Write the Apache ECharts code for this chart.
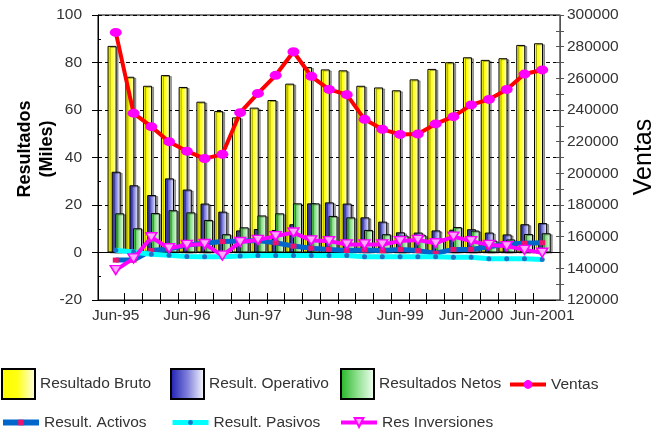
<!DOCTYPE html>
<html><head><meta charset="utf-8">
<script src="https://cdn.jsdelivr.net/npm/echarts@6/dist/echarts.min.js"></script>
<style>html,body{margin:0;padding:0;background:#fff}#c{width:665px;height:435px}</style>
</head><body><div id="c"></div>
<script>
// ---- data ----
const periods = ['Jun-95','Sep-95','Dic-95','Mar-96','Jun-96','Sep-96','Dic-96','Mar-97','Jun-97','Sep-97','Dic-97','Mar-98','Jun-98','Sep-98','Dic-98','Mar-99','Jun-99','Sep-99','Dic-99','Mar-2000','Jun-2000','Sep-2000','Dic-2000','Mar-2001','Jun-2001'];
const resultadoBruto = [87.0, 74.0, 70.2, 74.7, 69.7, 63.5, 59.6, 56.9, 61.0, 64.2, 71.1, 78.1, 77.1, 76.7, 70.2, 69.5, 68.3, 72.9, 77.3, 80.1, 82.2, 81.1, 81.8, 87.4, 88.1];
const resultOperativo = [34.0, 28.3, 24.2, 31.2, 26.5, 20.6, 17.2, 9.3, 9.9, 9.5, 11.9, 20.7, 21.1, 20.6, 14.8, 13.0, 8.5, 8.4, 9.3, 9.6, 9.8, 8.4, 7.6, 11.9, 12.4];
const resultadosNetos = [16.5, 10.2, 16.6, 17.8, 16.9, 13.7, 7.7, 10.6, 15.6, 16.5, 20.7, 20.7, 15.4, 14.8, 9.5, 7.7, 7.1, 7.3, 5.8, 10.7, 9.2, 5.0, 5.5, 7.8, 8.1];
const ventas = [289000, 238000, 229500, 220000, 214000, 209300, 212000, 238300, 250500, 261900, 276800, 261300, 253000, 249700, 234100, 227800, 224600, 224800, 231200, 235800, 243200, 246700, 253000, 262700, 265300];
const resultActivos = [-3.2, -3.2, 0.8, 1.5, 3.2, 3.9, 4.6, 4.8, 5.0, 4.1, 2.7, 1.8, 1.3, 0.8, 1.1, 0.8, 1.3, 0.8, -0.3, 1.3, 1.3, 2.4, 3.6, 3.9, 4.1];
const resultPasivos = [0.9, 0.2, -0.7, -1.2, -1.7, -1.8, -1.8, -1.5, -1.3, -1.3, -1.3, -1.3, -1.3, -1.3, -1.8, -1.8, -1.8, -1.8, -1.8, -2.0, -2.0, -2.6, -2.6, -2.6, -2.9];
const resInversiones = [-7.4, -2.5, 6.4, 1.8, 3.2, 3.6, -1.3, 4.4, 5.3, 6.9, 8.4, 5.1, 4.8, 3.4, 3.4, 3.4, 4.8, 5.3, 3.9, 6.7, 4.8, 3.2, 2.7, 1.1, -0.1];
const leftAxis = {min: -20, max: 100, interval: 20};
const rightAxis = {min: 120000, max: 300000, interval: 20000};

// ---- layout helpers ----
const FONT = "'Liberation Sans',Arial,sans-serif";
const PL = 98, PR = 560, PT = 15, PB = 300;
const slotW = (PR - PL) / 52;          // half a quarter
const catW = slotW * 2;
const innerLeft = PL + slotW;          // 25-category band grid
const innerWidth = catW * 25;
const slots = [];
for (let i = 0; i <= 52; i++) slots.push('');
periods.forEach((p, k) => { slots[2 + 2 * k] = p; });

const grad = (stops) => new echarts.graphic.LinearGradient(0, 0, 1, 0, stops.map(s => ({offset: s[0], color: s[1]})));
const barGrid = (dx) => ({left: innerLeft + dx, width: innerWidth, top: PT, height: PB - PT});
const hiddenCat = (gi) => ({type: 'category', gridIndex: gi, data: periods, boundaryGap: true, show: false});
const hiddenVal = (gi, a, pos) => ({type: 'value', gridIndex: gi, min: a.min, max: a.max, position: pos || 'left', show: false, splitLine: {show: false}});

const chart = echarts.init(document.getElementById('c'), null, {renderer: 'canvas'});
const tickFn = (i) => i % 2 === 1 && i >= 3 && i <= 49;
const labelFn = (i, v) => typeof v === 'string' && v.indexOf('Jun') === 0;

const barStyle = (stops) => ({color: grad(stops), borderColor: '#000', borderWidth: 1, shadowColor: 'rgba(0,0,0,0.35)', shadowOffsetX: 2, shadowOffsetY: 1, shadowBlur: 0});

const legCommon = {padding: 0, itemGap: 0, textStyle: {fontSize: 15.5, fontFamily: FONT, color: '#333'}, selectedMode: false};
const boxLeg = (name, left) => Object.assign({data: [name], left: left, top: 368, itemWidth: 33, itemHeight: 30, icon: 'rect',
  itemStyle: {shadowColor: 'transparent', shadowOffsetX: 0, shadowOffsetY: 0}}, legCommon);
const lineLeg = (name, left, cy, h, w) => Object.assign({data: [name], left: left, top: cy - 6.5, itemWidth: 36, itemHeight: h, lineStyle: {width: w}}, legCommon);

const option = {
  animation: false,
  backgroundColor: '#fff',
  grid: [
    {left: PL, right: 665 - PR, top: PT, bottom: 435 - PB, show: true, borderColor: '#000', borderWidth: 1, backgroundColor: 'transparent'},
    barGrid(0),
    barGrid(-3.7),
    barGrid(0.4),
    barGrid(4.0)
  ],
  xAxis: [
    {type: 'category', gridIndex: 0, data: slots, boundaryGap: false, position: 'bottom',
     axisLine: {show: true, onZero: false, lineStyle: {color: '#000', width: 1}},
     axisTick: {show: true, interval: tickFn, length: 4, lineStyle: {color: '#000'}},
     axisLabel: {show: true, interval: labelFn, margin: 8, fontSize: 15.5, fontFamily: FONT, color: '#333', hideOverlap: false, showMaxLabel: true},
     splitLine: {show: false}},
    {type: 'category', gridIndex: 0, data: slots, boundaryGap: false, position: 'bottom',
     axisLine: {show: false, onZero: false},
     axisTick: {show: true, inside: true, interval: tickFn, length: 7, lineStyle: {color: '#000'}},
     axisLabel: {show: false}, splitLine: {show: false}},
    hiddenCat(1), hiddenCat(2), hiddenCat(3), hiddenCat(4),
    {type: 'category', gridIndex: 0, data: slots, boundaryGap: false, position: 'bottom',
     axisLine: {show: true, onZero: true, lineStyle: {color: '#000', width: 1}},
     axisTick: {show: false}, axisLabel: {show: false}, splitLine: {show: false}, z: 1}
  ],
  yAxis: [
    {type: 'value', gridIndex: 0, position: 'left', min: leftAxis.min, max: leftAxis.max, interval: leftAxis.interval,
     axisLine: {show: true, lineStyle: {color: '#000'}},
     axisTick: {show: true, length: 6, lineStyle: {color: '#000'}},
     minorTick: {show: false},
     axisLabel: {margin: 16, fontSize: 15.5, fontFamily: FONT, color: '#333'},
     splitLine: {show: true, lineStyle: {color: '#000', type: [4, 3], width: 1}}},
    {type: 'value', gridIndex: 0, position: 'right', min: rightAxis.min, max: rightAxis.max, interval: rightAxis.interval,
     axisLine: {show: true, lineStyle: {color: '#555'}},
     axisTick: {show: true, length: 4, lineStyle: {color: '#555'}},
     minorTick: {show: true, splitNumber: 2, length: 4, lineStyle: {color: '#555'}},
     axisLabel: {margin: 7, fontSize: 15.5, fontFamily: FONT, color: '#333', formatter: (v) => String(v)},
     splitLine: {show: false}},
    {type: 'value', gridIndex: 0, position: 'right', min: rightAxis.min, max: rightAxis.max, interval: rightAxis.interval / 2,
     axisLine: {show: false}, axisTick: {show: true, inside: true, length: 4, lineStyle: {color: '#555'}},
     axisLabel: {show: false}, splitLine: {show: false}},
    {type: 'value', gridIndex: 0, position: 'left', min: leftAxis.min, max: leftAxis.max, interval: leftAxis.interval / 2,
     axisLine: {show: false}, axisTick: {show: true, inside: true, length: 3, lineStyle: {color: '#000'}},
     axisLabel: {show: false}, splitLine: {show: false}},
    hiddenVal(1, leftAxis), hiddenVal(1, rightAxis, 'right'),
    hiddenVal(2, leftAxis), hiddenVal(3, leftAxis), hiddenVal(4, leftAxis)
  ],
  legend: [
    boxLeg('Resultado Bruto', 1),
    boxLeg('Result. Operativo', 170),
    boxLeg('Resultados Netos', 340),
    lineLeg('Ventas', 508, 383, 11, 4),
    lineLeg('Result. Activos', 0, 421, 7, 6),
    lineLeg('Result. Pasivos', 170, 421, 6, 5),
    lineLeg('Res Inversiones', 339, 421, 11, 4)
  ],
  graphic: [
    {type: 'text', x: 36, y: 149, rotation: Math.PI / 2,
     style: {text: 'Resultados\n(Miles)', fontSize: 18, fontWeight: 'bold', fontFamily: FONT, fill: '#000', align: 'center', verticalAlign: 'middle', lineHeight: 22}},
    {type: 'text', x: 644, y: 157, rotation: Math.PI / 2,
     style: {text: 'Ventas', fontSize: 25, fontFamily: FONT, fill: '#000', align: 'center', verticalAlign: 'middle'}}
  ],
  series: [
    {name: 'Resultado Bruto', type: 'bar', xAxisIndex: 3, yAxisIndex: 6, barWidth: 9, data: resultadoBruto,
     itemStyle: barStyle([[0, '#ffff00'], [0.45, '#ffff10'], [1, '#ffffee']]), z: 2},
    {name: 'Result. Operativo', type: 'bar', xAxisIndex: 4, yAxisIndex: 7, barWidth: 9, data: resultOperativo,
     itemStyle: barStyle([[0, '#1c1cb0'], [0.5, '#8080dc'], [1, '#ffffff']]), z: 2},
    {name: 'Resultados Netos', type: 'bar', xAxisIndex: 5, yAxisIndex: 8, barWidth: 9, data: resultadosNetos,
     itemStyle: barStyle([[0, '#22b422'], [0.5, '#90e090'], [1, '#f6fff6']]), z: 2},
    {name: 'Ventas', type: 'line', xAxisIndex: 2, yAxisIndex: 5, data: ventas, z: 6,
     lineStyle: {color: '#ff0000', width: 4}, symbol: 'circle', symbolSize: [12, 9], showAllSymbol: true,
     itemStyle: {color: '#ff00ff'}},
    {name: 'Result. Activos', type: 'line', xAxisIndex: 2, yAxisIndex: 4, data: resultActivos, z: 3,
     lineStyle: {color: '#0066cc', width: 5}, symbol: 'rect', symbolSize: [6, 5], showAllSymbol: true,
     itemStyle: {color: '#f0106e'}},
    {name: 'Result. Pasivos', type: 'line', xAxisIndex: 2, yAxisIndex: 4, data: resultPasivos, z: 4,
     lineStyle: {color: '#00ffff', width: 5}, symbol: 'circle', symbolSize: 5, showAllSymbol: true,
     itemStyle: {color: '#1a74c7'}},
    {name: 'Res Inversiones', type: 'line', xAxisIndex: 2, yAxisIndex: 4, data: resInversiones, z: 5,
     lineStyle: {color: '#ff00ff', width: 4}, symbol: 'triangle', symbolRotate: 180, symbolSize: [11, 9], showAllSymbol: true,
     itemStyle: {color: '#ffa8ff', borderColor: '#ff00ff', borderWidth: 1.5}}
  ]
};
chart.setOption(option);
</script>
</body></html>
